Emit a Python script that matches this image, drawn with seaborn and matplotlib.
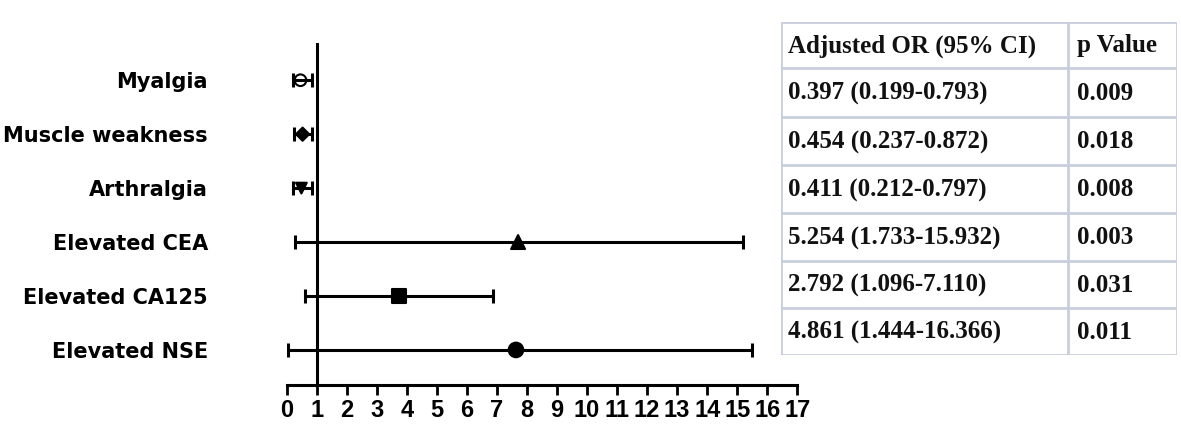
import matplotlib
matplotlib.use("Agg")
import matplotlib.pyplot as plt
import seaborn as sns
import pandas as pd

# dados
labels = ["Myalgia", "Muscle weakness", "Arthralgia",
          "Elevated CEA", "Elevated CA125", "Elevated NSE"]
odds = [0.45, 0.52, 0.48, 7.70, 3.73, 7.63]
ci_low = [0.20, 0.24, 0.21, 0.27, 0.60, 0.05]
ci_high = [0.85, 0.85, 0.82, 15.20, 6.87, 15.50]
x_ticks = list(range(0, 18))

table_header = ["Adjusted OR (95% CI)", "p Value"]
or_text = ["0.397 (0.199-0.793)", "0.454 (0.237-0.872)", "0.411 (0.212-0.797)",
           "5.254 (1.733-15.932)", "2.792 (1.096-7.110)", "4.861 (1.444-16.366)"]
p_text = ["0.009", "0.018", "0.008", "0.003", "0.031", "0.011"]

sns.set_theme(style="ticks")
plt.rcParams['font.family'] = ['DejaVu Sans']
plt.rcParams['text.color'] = 'black'

df = pd.DataFrame({"label": labels, "odds": odds, "lo": ci_low, "hi": ci_high})
df["row"] = range(len(df))

marker_map = {"Myalgia": "o", "Muscle weakness": "D", "Arthralgia": "v",
              "Elevated CEA": "^", "Elevated CA125": "s", "Elevated NSE": "o"}
size_map = {"Myalgia": 70, "Muscle weakness": 45, "Arthralgia": 60,
            "Elevated CEA": 100, "Elevated CA125": 100, "Elevated NSE": 110}

fig = plt.figure(figsize=(11.81, 4.28), dpi=100)
ax = fig.add_axes([0.243, 0.1005, 0.432, 0.799])

# intervalos de confiança
ax.errorbar(df["odds"], df["row"],
            xerr=[df["odds"] - df["lo"], df["hi"] - df["odds"]],
            fmt="none", ecolor="black", elinewidth=2.2,
            capsize=5, capthick=2.2, zorder=2)

sns.scatterplot(data=df, x="odds", y="row", style="label", markers=marker_map,
                size="label", sizes=size_map, color="black", edgecolor="black",
                linewidth=1.5, legend=False, ax=ax, zorder=3)
# Myalgia com marcador vazado
coll = ax.collections[-1]
fc = ["none" if lab == "Myalgia" else "black" for lab in labels]
coll.set_facecolors(fc)
coll.set_edgecolors("black")

ax.axvline(1, color="black", lw=2.2, zorder=1)

ax.set_xlim(0, 17)
ax.set_ylim(5.65, -0.69)
ax.set_xticks(x_ticks)
ax.set_xticklabels([str(t) for t in x_ticks], fontsize=17, fontweight="bold",
                   family=["Liberation Sans", "DejaVu Sans"], color="black")
ax.set_yticks(df["row"])
ax.set_yticklabels(labels, fontsize=15, fontweight="bold", color="black")
ax.tick_params(axis="y", length=0, pad=57)
ax.tick_params(axis="x", length=7, width=2, pad=3, colors="black")
ax.set_xlabel("")
ax.set_ylabel("")
for side in ["top", "right", "left"]:
    ax.spines[side].set_visible(False)
ax.spines["bottom"].set_linewidth(2.2)
ax.spines["bottom"].set_color("black")

# tabela à direita
tab = fig.add_axes([0.6613, 0.1706, 0.3353, 0.778])
tab.set_xlim(0, 396)
tab.set_ylim(333, 0)
tab.axis("off")
row_edges = [0, 46, 95, 143, 191, 239, 286, 333]
line_col = "#c8cedc"
for yb in row_edges:
    tab.plot([0, 396], [yb, yb], color=line_col, lw=2, solid_capstyle="butt")
for xb in [0, 287, 396]:
    tab.plot([xb, xb], [0, 333], color=line_col, lw=2, solid_capstyle="butt")

rows_text = [table_header] + [[a, b] for a, b in zip(or_text, p_text)]
for i, (c1, c2) in enumerate(rows_text):
    yc = (row_edges[i] + row_edges[i + 1]) / 2 + 1
    tab.text(7, yc, c1, ha="left", va="center", fontsize=18, fontweight="bold",
             family=["Liberation Serif", "DejaVu Serif"], color="#111111")
    tab.text(296, yc, c2, ha="left", va="center", fontsize=18, fontweight="bold",
             family=["Liberation Serif", "DejaVu Serif"], color="#111111")

fig.savefig("out.png", dpi=100)
plt.close(fig)
